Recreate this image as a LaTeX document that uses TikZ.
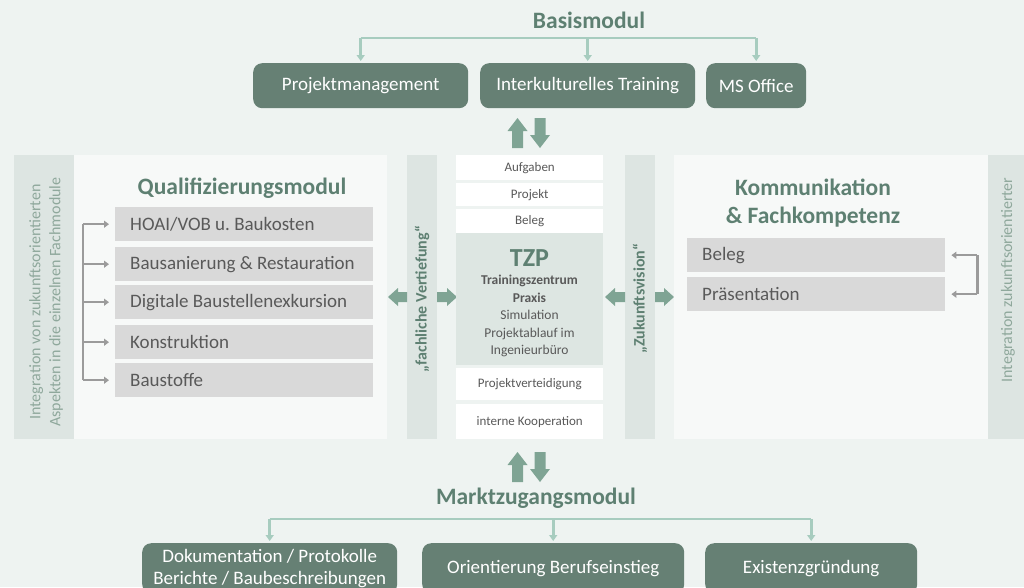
\documentclass[tikz,border=0pt]{standalone}
\usepackage{fontspec}
\setmainfont{Carlito}
\frenchspacing
\usetikzlibrary{arrows.meta,calc}
\definecolor{bg}{HTML}{EEF3F1}
\definecolor{panel}{HTML}{F7F9F8}
\definecolor{band}{HTML}{DDE5E2}
\definecolor{tzpfill}{HTML}{DDE6E2}
\definecolor{dkgreen}{HTML}{668074}
\definecolor{titlegreen}{HTML}{5E8072}
\definecolor{treegreen}{HTML}{A7CCBF}
\definecolor{arrowfill}{HTML}{7FA494}
\definecolor{greyfill}{HTML}{D9D9D9}
\definecolor{greytext}{HTML}{595959}
\definecolor{bracketgrey}{HTML}{9B9B9B}
\definecolor{bandtext}{HTML}{8FA89C}
\begin{document}
\begin{tikzpicture}[x=1pt,y=-1pt,
  darkbox/.style={fill=dkgreen, rounded corners=9pt, text=white, font=\fontsize{19}{22}\selectfont, inner sep=0pt, anchor=north west, align=center},
  greybox/.style={fill=greyfill, text=greytext, font=\fontsize{19}{22}\selectfont, inner sep=0pt, text width=258pt, minimum height=34pt, align=flush left, anchor=north west},
  whitebox/.style={fill=white, text=greytext, font=\fontsize{13}{15}\selectfont, minimum width=147pt, inner sep=0pt, anchor=north west},
  modtitle/.style={text=titlegreen, font=\fontsize{23.5}{28}\bfseries\selectfont, inner sep=0pt},
  bandlabel/.style={text=bandtext, font=\fontsize{16}{20}\selectfont, rotate=90, align=center, inner sep=0pt},
  vlabel/.style={text=titlegreen, font=\fontsize{16}{18}\bfseries\selectfont, rotate=90, inner sep=0pt},
  tree/.style={draw=treegreen, line width=2.6pt},
  treetip/.style={tree, -{Triangle[width=8pt,length=6pt]}},
  bracket/.style={draw=bracketgrey, line width=2.4pt},
  brackettip/.style={bracket, -{Triangle[width=7pt,length=5pt]}},
  blk/.style={fill=arrowfill}
]
\fill[bg] (0,0) rectangle (1024,587);
\useasboundingbox (0,0) rectangle (1024,587);

% ---------- Basismodul ----------
\node[modtitle] (basis) at (589,20) {Basismodul};
\node[darkbox, minimum width=215pt, minimum height=45pt] (pm) at (253,63) {Projektmanagement};
\node[darkbox, minimum width=215pt, minimum height=45pt] (it) at (480,63) {Interkulturelles Training};
\node[darkbox, minimum width=100pt, minimum height=45pt] (ms) at (706,63) {MS Office};
\coordinate (bh) at (0,38);
\draw[tree] (pm.north |- bh) -- (ms.north |- bh);
\foreach \n in {pm,it,ms} \draw[treetip] (\n.north |- bh) -- ([yshift=2pt]\n.north);

% up/down arrows top
\fill[blk] (512,148) -- (512,131) -- (507.5,131) -- (517.5,118) -- (527.5,131) -- (523,131) -- (523,148) -- cycle;
\fill[blk] (534.5,118) -- (545.5,118) -- (545.5,135) -- (550,135) -- (540,148) -- (530,135) -- (534.5,135) -- cycle;

% ---------- Left panel ----------
\fill[panel] (14,155) rectangle (387,439);
\fill[band] (14,155) rectangle (74,439);
\node[bandlabel] (lbl) at (46,302) {Integration von zukunftsorientierten\\Aspekten in die einzelnen Fachmodule};
\node[modtitle] (qual) at (242,188) {Qualifizierungsmodul};
\node[greybox] (q1) at (115,207) {\hspace*{15pt}HOAI/VOB u. Baukosten};
\node[greybox] (q2) at (115,247) {\hspace*{15pt}Bausanierung \& Restauration};
\node[greybox] (q3) at (115,285) {\hspace*{15pt}Digitale Baustellenexkursion};
\node[greybox] (q4) at (115,325) {\hspace*{15pt}Konstruktion};
\node[greybox] (q5) at (115,363) {\hspace*{15pt}Baustoffe};
\draw[bracket] ([xshift=-32pt]q1.west) -- ([xshift=-32pt]q5.west);
\foreach \n in {q1,q2,q3,q4,q5} \draw[brackettip] ([xshift=-32pt]\n.west) -- ([xshift=-6pt]\n.west);

% ---------- fachliche Vertiefung ----------
\fill[band] (407,155) rectangle (437,439);
\node[vlabel] (fv) at (422,299) {„fachliche Vertiefung“};
\fill[blk] (407,292) -- (398,292) -- (398,288) -- (388,297) -- (398,306) -- (398,302) -- (407,302) -- cycle;
\fill[blk] (437,292) -- (447,292) -- (447,288) -- (457,297) -- (447,306) -- (447,302) -- (437,302) -- cycle;

% ---------- Center column ----------
\node[whitebox, minimum height=25pt] (c1) at (456,155) {Aufgaben};
\node[whitebox, minimum height=23pt] (c2) at (456,183) {Projekt};
\node[whitebox, minimum height=24pt] (c3) at (456,209) {Beleg};
\node[whitebox, fill=tzpfill, minimum height=132pt] (tzp) at (456,233) {};
\node[text=titlegreen, font=\fontsize{26}{30}\bfseries\selectfont, inner sep=0pt] (tzpt) at (529.5,258) {TZP};
\node[text=greytext, font=\fontsize{13.5}{17.5}\selectfont, align=center, inner sep=0pt] (tzpb) at (529.5,316) {\textbf{Trainingszentrum}\\\textbf{Praxis}\\Simulation\\Projektablauf im\\Ingenieurbüro};
\node[whitebox, minimum height=32pt] (c5) at (456,368) {Projektverteidigung};
\node[whitebox, minimum height=35pt] (c6) at (456,404) {interne Kooperation};

% ---------- Zukunftsvision ----------
\fill[band] (625,155) rectangle (655,439);
\node[vlabel] (zv) at (640,299) {„Zukunftsvision“};
\fill[blk] (625,292) -- (615,292) -- (615,288) -- (605,297) -- (615,306) -- (615,302) -- (625,302) -- cycle;
\fill[blk] (655,292) -- (664,292) -- (664,288) -- (674,297) -- (664,306) -- (664,302) -- (655,302) -- cycle;

% ---------- Right panel ----------
\fill[panel] (674,155) rectangle (988,439);
\fill[band] (988,155) rectangle (1024,439);
\node[bandlabel] (rbl) at (1008,280) {Integration zukunftsorientierter};
\node[modtitle, align=center] (komm) at (813,203) {Kommunikation\\\& Fachkompetenz};
\node[greybox] (r1) at (687,238) {\hspace*{15pt}Beleg};
\node[greybox] (r2) at (687,277) {\hspace*{15pt}Präsentation};
\draw[bracket] ([xshift=32pt]r1.east) -- ([xshift=32pt]r2.east);
\foreach \n in {r1,r2} \draw[brackettip] ([xshift=32pt]\n.east) -- ([xshift=6pt]\n.east);

% up/down arrows bottom
\fill[blk] (512,482) -- (512,465) -- (507.5,465) -- (517.5,452) -- (527.5,465) -- (523,465) -- (523,482) -- cycle;
\fill[blk] (534.5,452) -- (545.5,452) -- (545.5,469) -- (550,469) -- (540,482) -- (530,469) -- (534.5,469) -- cycle;

% ---------- Marktzugangsmodul ----------
\node[modtitle] (markt) at (536,498) {Marktzugangsmodul};
\node[darkbox, minimum width=255pt, minimum height=50pt] (d1) at (142,543) {Dokumentation / Protokolle\\Berichte / Baubeschreibungen};
\node[darkbox, minimum width=262pt, minimum height=50pt] (d2) at (422,543) {Orientierung Berufseinstieg};
\node[darkbox, minimum width=212pt, minimum height=50pt] (d3) at (705,543) {Existenzgründung};
\coordinate (mh) at (0,519);
\draw[tree] (d1.north |- mh) -- (d3.north |- mh);
\foreach \n in {d1,d2,d3} \draw[treetip] (\n.north |- mh) -- ([yshift=2pt]\n.north);
\end{tikzpicture}
\end{document}
